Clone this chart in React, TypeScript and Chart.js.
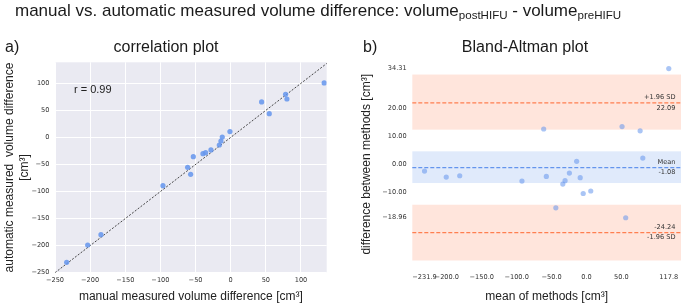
import React, { useEffect, useRef } from "react";
import { Chart, registerables } from "chart.js";

Chart.register(...registerables);

// ---- correlation plot data (manual vs automatic volume difference, cm³) ----
const MANUAL_DIFF = [-233.4, -203.5, -184.6, -96.4, -61.3, -57.0, -53.2, -39.5, -35.7, -28.1, -16.2, -13.9, -12.0, -1.1, 44.0, 54.9, 78.1, 80.0, 133.0];
const AUTO_DIFF = [-230.9, -198.8, -179.7, -89.2, -55.3, -68.2, -35.6, -30.0, -28.2, -23.2, -14.0, -6.6, 0.8, 10.7, 65.5, 43.9, 79.7, 71.0, 100.6];
const IDENTITY_LINE = [-250, 140];
const CORR_X_TICKS = [-250, -200, -150, -100, -50, 0, 50, 100];
const CORR_Y_TICKS = [-250, -200, -150, -100, -50, 0, 50, 100];
const CORR_X_RANGE = [-250, 136.6];
const CORR_Y_RANGE = [-250, 138.8];
const CORR_R_LABEL = "r = 0.99";
const CORR_R_POS = [-223, 87.6];

// ---- Bland-Altman data ----
const BA_MEAN = [-231.9, -200.8, -181.5, -92.4, -61.3, -57.5, -43.9, -33.9, -30.7, -24.5, -14.1, -9.0, -4.7, 6.1, 50.9, 56.1, 76.8, 80.6, 117.8];
const BA_DIFF = [-2.28, -4.42, -3.95, -5.85, 12.74, -4.19, -15.4, -6.93, -5.73, -2.99, 1.18, -4.66, -10.3, -9.4, 13.6, -18.96, 12.1, 2.37, 34.31];
const BA_X_TICKS = [-231.9, -200, -150, -100, -50, 0, 50, 117.8];
const BA_Y_TICKS = [34.31, 20, 10, 0, -10, -18.96];
const BA_X_RANGE = [-249.4, 135.3];
const BA_Y_RANGE = [-37.47, 37.73];
const MEAN_DIFF = -1.08;
const UPPER_LOA = 22.09;
const LOWER_LOA = -24.24;
const UPPER_CI = [12.5, 32.17];
const MEAN_CI = [-6.56, 4.76];
const LOWER_CI = [-34.22, -14.31];

const TICK_FONT = { family: "DejaVu Sans", size: 6.6 };
const LABEL_FONT = "Liberation Sans, Arial, sans-serif";
const TICK_COLOR = "#333";
const CORAL = "#FF7F50";
const CORNFLOWER = "#6495ED";

const minus = (s: string) => s.replace("-", "\u2212");

const bgPlugin = {
  id: "plotBg",
  beforeDraw(chart: any) {
    const { ctx, chartArea } = chart;
    ctx.save();
    ctx.fillStyle = "#EAEAF2";
    ctx.fillRect(chartArea.left, chartArea.top, chartArea.width, chartArea.height);
    ctx.restore();
  },
};

const rLabelPlugin = {
  id: "rLabel",
  afterDatasetsDraw(chart: any) {
    const { ctx, scales } = chart;
    ctx.save();
    ctx.font = `11px ${LABEL_FONT}`;
    ctx.fillStyle = "#222";
    ctx.textAlign = "left";
    ctx.textBaseline = "middle";
    ctx.fillText(CORR_R_LABEL, scales.x.getPixelForValue(CORR_R_POS[0]), scales.y.getPixelForValue(CORR_R_POS[1]));
    ctx.restore();
  },
};

const baPlugin = {
  id: "baBands",
  beforeDatasetsDraw(chart: any) {
    const { ctx, chartArea, scales } = chart;
    const y = scales.y;
    const band = (r: number[], color: string) => {
      const y1 = y.getPixelForValue(r[1]);
      const y0 = y.getPixelForValue(r[0]);
      ctx.fillStyle = color;
      ctx.fillRect(chartArea.left, y1, chartArea.width, y0 - y1);
    };
    ctx.save();
    band(UPPER_CI, "rgba(255,127,80,0.2)");
    band(LOWER_CI, "rgba(255,127,80,0.2)");
    band(MEAN_CI, "rgba(100,149,237,0.2)");
    const hline = (v: number, color: string) => {
      const py = y.getPixelForValue(v);
      ctx.beginPath();
      ctx.strokeStyle = color;
      ctx.lineWidth = 1.2;
      ctx.setLineDash([4, 2]);
      ctx.moveTo(chartArea.left, py);
      ctx.lineTo(chartArea.right, py);
      ctx.stroke();
    };
    hline(UPPER_LOA, CORAL);
    hline(LOWER_LOA, CORAL);
    hline(MEAN_DIFF, CORNFLOWER);
    ctx.setLineDash([]);
    ctx.font = `${TICK_FONT.size}px ${TICK_FONT.family}`;
    ctx.fillStyle = "#333";
    ctx.textAlign = "right";
    ctx.textBaseline = "middle";
    const tx = chartArea.right - 5.5;
    const lab = (v: number, above: string, below: string) => {
      const py = y.getPixelForValue(v);
      ctx.fillText(above, tx, py - 5.5);
      ctx.fillText(below, tx, py + 5);
    };
    lab(UPPER_LOA, "+1.96 SD", UPPER_LOA.toFixed(2));
    lab(MEAN_DIFF, "Mean", MEAN_DIFF.toFixed(2));
    lab(LOWER_LOA, LOWER_LOA.toFixed(2), "-1.96 SD");
    ctx.restore();
  },
};

function CorrelationChart() {
  const ref = useRef<HTMLCanvasElement>(null);
  useEffect(() => {
    if (!ref.current) return;
    const chart = new Chart(ref.current, {
      type: "scatter",
      data: {
        datasets: [
          {
            type: "scatter",
            data: MANUAL_DIFF.map((x, i) => ({ x, y: AUTO_DIFF[i] })),
            backgroundColor: "rgba(100,149,237,0.85)",
            borderWidth: 0,
            pointRadius: 2.6,
          },
          {
            type: "line",
            data: IDENTITY_LINE.map((v) => ({ x: v, y: v })),
            borderColor: "#333",
            borderWidth: 0.9,
            borderDash: [2, 1.6],
            pointRadius: 0,
            fill: false,
          } as any,
        ],
      },
      options: {
        responsive: false,
        animation: false,
        events: [],
        layout: { padding: { top: 62.3, right: 13.3, left: 0, bottom: 0 } },
        plugins: { legend: { display: false }, tooltip: { enabled: false }, title: { display: false } },
        scales: {
          x: {
            type: "linear",
            min: CORR_X_RANGE[0],
            max: CORR_X_RANGE[1],
            afterBuildTicks: (s: any) => {
              s.ticks = CORR_X_TICKS.map((v) => ({ value: v }));
            },
            afterFit: (s: any) => {
              s.height = 31.3;
            },
            grid: { color: "#ffffff", lineWidth: 1, drawTicks: false },
            border: { display: false },
            ticks: {
              padding: 4,
              font: TICK_FONT,
              color: TICK_COLOR,
              autoSkip: false,
              maxRotation: 0,
              callback: (v: any) => minus(String(v)),
            },
            title: {
              display: true,
              text: "manual measured volume difference [cm³]",
              font: { family: LABEL_FONT, size: 12, lineHeight: 1.2 },
              color: "#222",
              padding: { top: 0, bottom: 0 },
            },
          },
          y: {
            type: "linear",
            min: CORR_Y_RANGE[0],
            max: CORR_Y_RANGE[1],
            afterBuildTicks: (s: any) => {
              s.ticks = CORR_Y_TICKS.map((v) => ({ value: v }));
            },
            afterFit: (s: any) => {
              s.width = 55;
            },
            grid: { color: "#ffffff", lineWidth: 1, drawTicks: false },
            border: { display: false },
            ticks: {
              padding: 5.5,
              font: TICK_FONT,
              color: TICK_COLOR,
              autoSkip: false,
              callback: (v: any) => minus(String(v)),
            },
            title: {
              display: true,
              text: ["automatic measured  volume difference", "[cm³]"],
              font: { family: LABEL_FONT, size: 12, lineHeight: 1.25 },
              color: "#222",
              padding: { top: 2.5, bottom: 0 },
            },
          },
        },
      },
      plugins: [bgPlugin, rLabelPlugin],
    } as any);
    return () => chart.destroy();
  }, []);
  return <canvas ref={ref} width={340} height={304} style={{ position: "absolute", left: 0, top: 0 }} />;
}

function BlandAltmanChart() {
  const ref = useRef<HTMLCanvasElement>(null);
  useEffect(() => {
    if (!ref.current) return;
    const chart = new Chart(ref.current, {
      type: "scatter",
      data: {
        datasets: [
          {
            data: BA_MEAN.map((x, i) => ({ x, y: BA_DIFF[i] })),
            backgroundColor: "rgba(100,149,237,0.55)",
            borderWidth: 0,
            pointRadius: 2.6,
          },
        ],
      },
      options: {
        responsive: false,
        animation: false,
        events: [],
        layout: { padding: { top: 59, right: 0.6, left: 0, bottom: 0 } },
        plugins: { legend: { display: false }, tooltip: { enabled: false }, title: { display: false } },
        scales: {
          x: {
            type: "linear",
            min: BA_X_RANGE[0],
            max: BA_X_RANGE[1],
            afterBuildTicks: (s: any) => {
              s.ticks = BA_X_TICKS.map((v) => ({ value: v }));
            },
            afterFit: (s: any) => {
              s.height = 34.4;
            },
            grid: { display: false, drawTicks: false },
            border: { display: false },
            ticks: {
              padding: 4,
              font: TICK_FONT,
              color: TICK_COLOR,
              autoSkip: false,
              maxRotation: 0,
              callback: (v: any) => minus(Number(v).toFixed(1)),
            },
            title: {
              display: true,
              text: "mean of methods [cm³]",
              font: { family: LABEL_FONT, size: 12, lineHeight: 1.2 },
              color: "#222",
              padding: { top: 0, bottom: 0 },
            },
          },
          y: {
            type: "linear",
            min: BA_Y_RANGE[0],
            max: BA_Y_RANGE[1],
            afterBuildTicks: (s: any) => {
              s.ticks = BA_Y_TICKS.map((v) => ({ value: v }));
            },
            afterFit: (s: any) => {
              s.width = 72.3;
            },
            grid: { display: false, drawTicks: false },
            border: { display: false },
            ticks: {
              padding: 5.6,
              font: TICK_FONT,
              color: TICK_COLOR,
              autoSkip: false,
              callback: (v: any) => minus(Number(v).toFixed(2)),
            },
            title: {
              display: true,
              text: "difference between methods [cm³]",
              font: { family: LABEL_FONT, size: 12, lineHeight: 1.25 },
              color: "#222",
              padding: { top: 19.2, bottom: 0 },
            },
          },
        },
      },
      plugins: [baPlugin],
    } as any);
    return () => chart.destroy();
  }, []);
  return <canvas ref={ref} width={345} height={304} style={{ position: "absolute", left: 340, top: 0 }} />;
}

const textStyle: React.CSSProperties = {
  position: "absolute",
  fontFamily: LABEL_FONT,
  color: "#1a1a1a",
  whiteSpace: "nowrap",
  lineHeight: 1,
};

export default function App() {
  return (
    <div style={{ position: "absolute", left: 0, top: 0, width: 685, height: 304, background: "#fff", overflow: "hidden" }}>
      <CorrelationChart />
      <BlandAltmanChart />
      <div style={{ ...textStyle, left: 15, top: 1.5, fontSize: 17 }}>
        manual vs. automatic measured volume difference: volume
        <span style={{ fontSize: "0.68em", position: "relative", top: "0.3em" }}>postHIFU</span> - volume
        <span style={{ fontSize: "0.68em", position: "relative", top: "0.3em" }}>preHIFU</span>
      </div>
      <div style={{ ...textStyle, left: 5, top: 39, fontSize: 16 }}>a)</div>
      <div style={{ ...textStyle, left: 166, top: 39, fontSize: 16, transform: "translateX(-50%)" }}>correlation plot</div>
      <div style={{ ...textStyle, left: 363, top: 39, fontSize: 16 }}>b)</div>
      <div style={{ ...textStyle, left: 525, top: 39, fontSize: 16, transform: "translateX(-50%)" }}>Bland-Altman plot</div>
    </div>
  );
}
